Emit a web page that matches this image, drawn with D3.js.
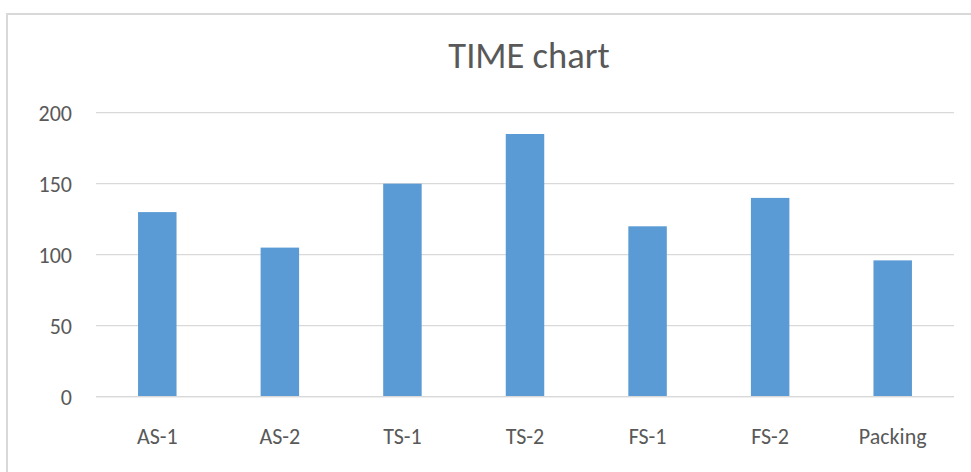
<!DOCTYPE html>
<html>
<head>
<meta charset="utf-8">
<script src="https://cdn.jsdelivr.net/npm/d3@7/dist/d3.min.js"></script>
<style>
  html, body { margin: 0; padding: 0; background: #fff; }
  svg { display: block; font-family: Carlito, Calibri, Lato, "Open Sans", sans-serif; }
</style>
</head>
<body>
<svg id="chart" width="971" height="472"></svg>
<script>
// Process step times
const categories = ["AS-1", "AS-2", "TS-1", "TS-2", "FS-1", "FS-2", "Packing"];
const times = [130, 105, 150, 185, 120, 140, 96];
const yTicks = [0, 50, 100, 150, 200];
const chartTitle = "TIME chart";

const svg = d3.select("#chart");
const W = 971, H = 472;
const plot = { left: 96, right: 954, top: 112.7, bottom: 396.7 };

// Outer frame of the chart area
svg.append("rect")
  .attr("x", 7).attr("y", 14)
  .attr("width", W + 10).attr("height", H + 10)
  .attr("fill", "#fff")
  .attr("stroke", "#d9d9d9")
  .attr("stroke-width", 2);

const x = d3.scaleBand()
  .domain(categories)
  .range([plot.left, plot.right])
  .paddingInner(0.686)
  .paddingOuter(0.343);

const y = d3.scaleLinear()
  .domain([0, 200])
  .range([plot.bottom, plot.top]);

// Horizontal gridlines
svg.append("g")
  .selectAll("line")
  .data(yTicks)
  .join("line")
  .attr("x1", plot.left).attr("x2", plot.right)
  .attr("y1", d => y(d)).attr("y2", d => y(d))
  .attr("stroke", "#d9d9d9")
  .attr("stroke-width", 1.3);

// Y tick labels
svg.append("g")
  .selectAll("text")
  .data(yTicks)
  .join("text")
  .attr("x", 72)
  .attr("y", d => y(d))
  .attr("dy", "0.36em")
  .attr("text-anchor", "end")
  .attr("font-size", 22)
  .attr("fill", "#595959")
  .text(d => d);

// Bars
svg.append("g")
  .selectAll("rect")
  .data(categories)
  .join("rect")
  .attr("x", d => x(d))
  .attr("width", x.bandwidth())
  .attr("y", (d, i) => y(times[i]))
  .attr("height", (d, i) => y(0) - y(times[i]))
  .attr("fill", "#5b9bd5");

// Category axis line
svg.append("line")
  .attr("x1", plot.left).attr("x2", plot.right)
  .attr("y1", y(0)).attr("y2", y(0))
  .attr("stroke", "#d9d9d9")
  .attr("stroke-width", 1.3);

// Category labels
svg.append("g")
  .selectAll("text")
  .data(categories)
  .join("text")
  .attr("x", d => x(d) + x.bandwidth() / 2)
  .attr("y", 444)
  .attr("text-anchor", "middle")
  .attr("font-size", 22)
  .attr("fill", "#595959")
  .text(d => d);

// Title
svg.append("text")
  .attr("x", 529)
  .attr("y", 68)
  .attr("text-anchor", "middle")
  .attr("font-size", 36.5)
  .attr("fill", "#595959")
  .text(chartTitle);
</script>
</body>
</html>
